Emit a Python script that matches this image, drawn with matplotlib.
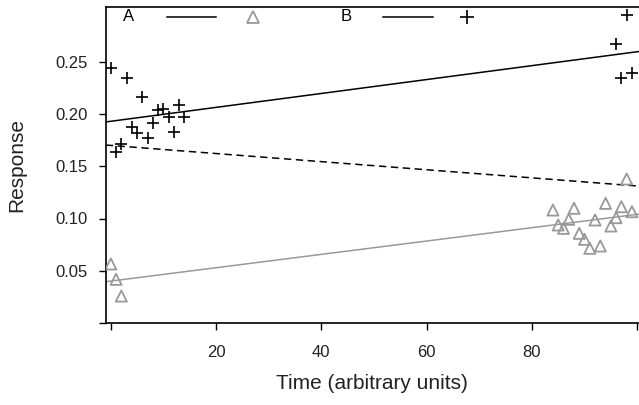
import numpy as np
import matplotlib
matplotlib.use("Agg")
import matplotlib.pyplot as plt
from matplotlib.lines import Line2D

plt.rcParams['font.family'] = ['Liberation Sans', 'DejaVu Sans']

# ---- data ----
time_a = [0, 1, 2, 84, 85, 86, 87, 88, 89, 90, 91, 92, 93, 94, 95, 96, 97, 98, 99]
resp_a = [0.0565, 0.0418, 0.0258, 0.1081, 0.0938, 0.0906, 0.0992, 0.1098, 0.0858,
          0.0801, 0.0715, 0.0986, 0.0737, 0.1145, 0.0928, 0.1008, 0.1113, 0.1378, 0.1065]
time_b = [0, 1, 2, 3, 4, 5, 6, 7, 8, 9, 10, 11, 12, 13, 14, 96, 97, 98, 99]
resp_b = [0.2437, 0.1639, 0.1713, 0.2342, 0.1878, 0.1821, 0.2166, 0.1773, 0.1917,
          0.2038, 0.2045, 0.1968, 0.1831, 0.2086, 0.1968, 0.2670, 0.2342, 0.2947, 0.2389]
group_names = ['A', 'B']
x_ticks = [0, 20, 40, 60, 80, 100]
x_tick_labels = ['', '20', '40', '60', '80', '']
y_ticks = [0.00, 0.05, 0.10, 0.15, 0.20, 0.25]
y_tick_labels = ['', '0.05', '0.10', '0.15', '0.20', '0.25']

GRAY = '#999999'
TXT = '#222222'
W, H = 639, 405
fig = plt.figure(figsize=(W / 100, H / 100), dpi=100)
ax = fig.add_axes([105.7 / W, (H - 323) / H, 1 - 105.7 / W, (323 - 7) / H])

ta, ra = np.array(time_a), np.array(resp_a)
tb, rb = np.array(time_b), np.array(resp_b)
xlim = (-0.97, 100.35)
xs = np.array(xlim)

# fitted lines
pa = np.polyfit(ta, ra, 1)
pb = np.polyfit(tb, rb, 1)
pall = np.polyfit(np.concatenate([ta, tb]), np.concatenate([ra, rb]), 1)
ax.plot(xs, np.polyval(pa, xs), color=GRAY, lw=1.1, zorder=2)
ax.plot(xs, np.polyval(pb, xs), color='black', lw=1.1, zorder=2)
ax.plot(xs, np.polyval(pall, xs), color='black', lw=1.1, dashes=(4.8, 3), zorder=2)

# points
ax.scatter(ta, ra, marker='^', s=64, facecolors='none', edgecolors=GRAY, linewidths=1.3, zorder=3)
ax.scatter(tb, rb, marker='+', s=80, color='black', linewidths=1.2, zorder=3)

ax.set_xlim(*xlim)
ax.set_ylim(0, 316 / 1045)

ax.spines['right'].set_visible(False)
for s in ['left', 'top', 'bottom']:
    ax.spines[s].set_linewidth(1.2)

ax.set_xticks(x_ticks)
ax.set_xticklabels(x_tick_labels)
ax.set_yticks(y_ticks)
ax.set_yticklabels(y_tick_labels)
ax.tick_params(axis='both', direction='out', length=5, width=1.0, labelsize=12,
               colors='black', labelcolor=TXT)
ax.tick_params(axis='x', pad=10.5)
ax.tick_params(axis='y', pad=8)

ax.set_xlabel('Time (arbitrary units)', fontsize=15, color=TXT, labelpad=10.5)
ax.set_ylabel('Response', fontsize=15, color=TXT, labelpad=21)

# key at the top
tr = ax.transAxes
ly = 1 - (16.7 - 7) / 316


def fx(px):
    return (px - 105.7) / (W - 105.7)


ax.text(fx(122.7), ly, group_names[0], transform=tr, fontsize=12, va='center', ha='left', color='black')
ax.add_line(Line2D([fx(166.7), fx(216)], [ly, ly], transform=tr, color='black', lw=1.1))
ax.plot([fx(252.7)], [ly], transform=tr, marker='^', ms=8.6, mfc='none', mec=GRAY, mew=1.3, clip_on=False)
ax.text(fx(340.7), ly, group_names[1], transform=tr, fontsize=12, va='center', ha='left', color='black')
ax.add_line(Line2D([fx(383), fx(433)], [ly, ly], transform=tr, color='black', lw=1.1))
ax.plot([fx(466.7)], [ly], transform=tr, marker='+', ms=9.5, color='black', mew=1.2, clip_on=False)

fig.savefig('out.png', dpi=100)
